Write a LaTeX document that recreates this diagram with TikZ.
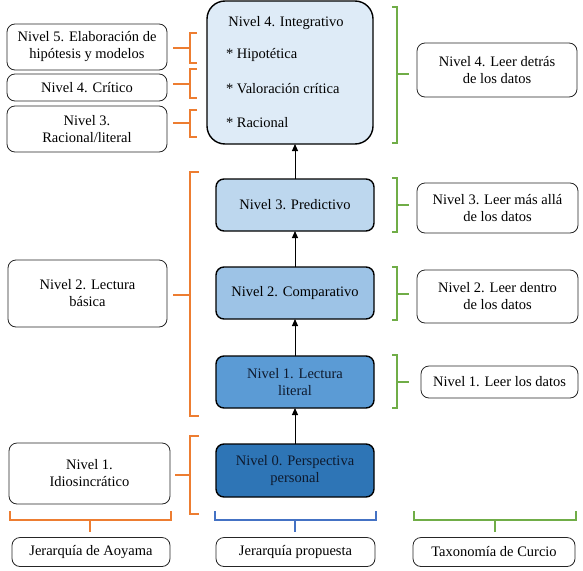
\documentclass[tikz,border=0pt]{standalone}
\usepackage{fontspec}
\setmainfont{Liberation Serif}
\usetikzlibrary{arrows.meta}
\definecolor{orng}{HTML}{ED7D31}
\definecolor{grn}{HTML}{70AD47}
\definecolor{blu}{HTML}{4472C4}
\definecolor{fillA}{HTML}{DEEBF7}
\definecolor{fillB}{HTML}{BDD7EE}
\definecolor{fillC}{HTML}{9DC3E6}
\definecolor{fillD}{HTML}{5B9BD5}
\definecolor{fillE}{HTML}{2E75B6}
\definecolor{txtdark}{HTML}{0E1A2E}
\begin{document}
\begin{tikzpicture}[x=1pt,y=-1pt,
  font=\fontsize{14.5}{17}\selectfont,
  sidebox/.style={draw=black!85, line width=0.8pt, rounded corners=8pt, align=center, inner sep=1pt, outer sep=0pt},
  midbox/.style={draw=black, line width=1.4pt, rounded corners=8pt, align=center, inner sep=1pt, outer sep=0pt, minimum width=158pt, minimum height=52pt},
  txt/.style={inner sep=0pt, outer sep=0pt},
  arr/.style={draw=black, line width=1pt, -{Triangle[length=7pt,width=6pt]}},
  obrk/.style={draw=orng, line width=1.4pt},
  gbrk/.style={draw=grn, line width=1.4pt},
  bbrk/.style={draw=blu, line width=1.4pt}]
\useasboundingbox (0,0) rectangle (583,570);

% ---------- middle column ----------
\node[midbox, fill=fillA, rounded corners=18pt, minimum width=166pt, minimum height=143pt] (n4) at (290,72.5) {};
\node[txt] (n4t) at (286,23) {Nivel 4. Integrativo};
\node[txt, anchor=west] (n4a) at (226,55) {* Hipotética};
\node[txt, anchor=west] (n4b) at (226,89) {* Valoración crítica};
\node[txt, anchor=west] (n4c) at (226,123) {* Racional};
\node[midbox, fill=fillB] (n3) at (295,205) {Nivel 3. Predictivo};
\node[midbox, fill=fillC] (n2) at (295,293) {Nivel 2. Comparativo};
\node[midbox, fill=fillD, text=txtdark] (n1) at (295,382) {Nivel 1. Lectura\\literal};
\node[midbox, fill=fillE, text=txtdark, minimum height=53pt] (n0) at (295,470.5) {Nivel 0. Perspectiva\\personal};

\draw[arr] (n0.north) -- (n1.south);
\draw[arr] (n1.north) -- (n2.south);
\draw[arr] (n2.north) -- (n3.south);
\draw[arr] (n3.north) -- (n3.north |- n4.south);

% ---------- left column ----------
\node[sidebox, minimum width=160pt, minimum height=46pt] (L5) at (87,47) {Nivel 5. Elaboración de\\hipótesis y modelos};
\node[sidebox, minimum width=160pt, minimum height=27pt] (L4) at (87,87.5) {Nivel 4. Crítico};
\node[sidebox, minimum width=160pt, minimum height=46pt] (L3) at (87,129) {Nivel 3.\\Racional/literal};
\node[sidebox, minimum width=159pt, minimum height=67pt] (L2) at (87.5,293.5) {Nivel 2. Lectura\\básica};
\node[sidebox, minimum width=161pt, minimum height=61pt] (L1) at (89.5,473.5) {Nivel 1.\\Idiosincrático};

% orange brackets
\draw[obrk] (197,33) -- (190,33) -- (190,63) -- (197,63) (173,48) -- (190,48);
\draw[obrk] (197,69) -- (190,69) -- (190,98) -- (197,98) (173,84) -- (190,84);
\draw[obrk] (197,110) -- (190,110) -- (190,137) -- (197,137) (173,123) -- (190,123);
\draw[obrk] (199,172) -- (190,172) -- (190,416) -- (199,416) (173,295) -- (190,295);
\draw[obrk] (199,436) -- (190,436) -- (190,514) -- (199,514) (175,475) -- (190,475);

% ---------- right column ----------
\node[sidebox, minimum width=160pt, minimum height=54pt] (R4) at (497,70) {Nivel 4. Leer detrás\\de los datos};
\node[sidebox, minimum width=161pt, minimum height=50pt] (R3) at (497.5,208) {Nivel 3. Leer más allá\\de los datos};
\node[sidebox, minimum width=161pt, minimum height=53pt] (R2) at (497.5,296.5) {Nivel 2. Leer dentro\\de los datos};
\node[sidebox, minimum width=157pt, minimum height=32pt] (R1) at (499.5,382) {Nivel 1. Leer los datos};

% green brackets
\draw[gbrk] (392,7) -- (397,7) -- (397,143) -- (392,143) (397,74) -- (409,74);
\draw[gbrk] (392,178) -- (397,178) -- (397,232) -- (392,232) (397,205) -- (409,205);
\draw[gbrk] (392,267) -- (397,267) -- (397,320) -- (392,320) (397,294) -- (409,294);
\draw[gbrk] (392,355) -- (397,355) -- (397,408) -- (392,408) (397,382) -- (409,382);

% ---------- bottom row ----------
\node[sidebox, minimum width=158pt, minimum height=29pt] (B1) at (91,552) {Jerarquía de Aoyama};
\node[sidebox, minimum width=159pt, minimum height=29pt] (B2) at (295.5,552) {Jerarquía propuesta};
\node[sidebox, minimum width=162pt, minimum height=29pt] (B3) at (494,552) {Taxonomía de Curcio};

\draw[obrk] (10,511) -- (10,520) -- (171,520) -- (171,511) (90,520) -- (90,532);
\draw[bbrk] (215,511) -- (215,520) -- (376,520) -- (376,511) (295,520) -- (295,532);
\draw[gbrk] (414,511) -- (414,520) -- (576,520) -- (576,511) (495,520) -- (495,532);
\end{tikzpicture}
\end{document}
